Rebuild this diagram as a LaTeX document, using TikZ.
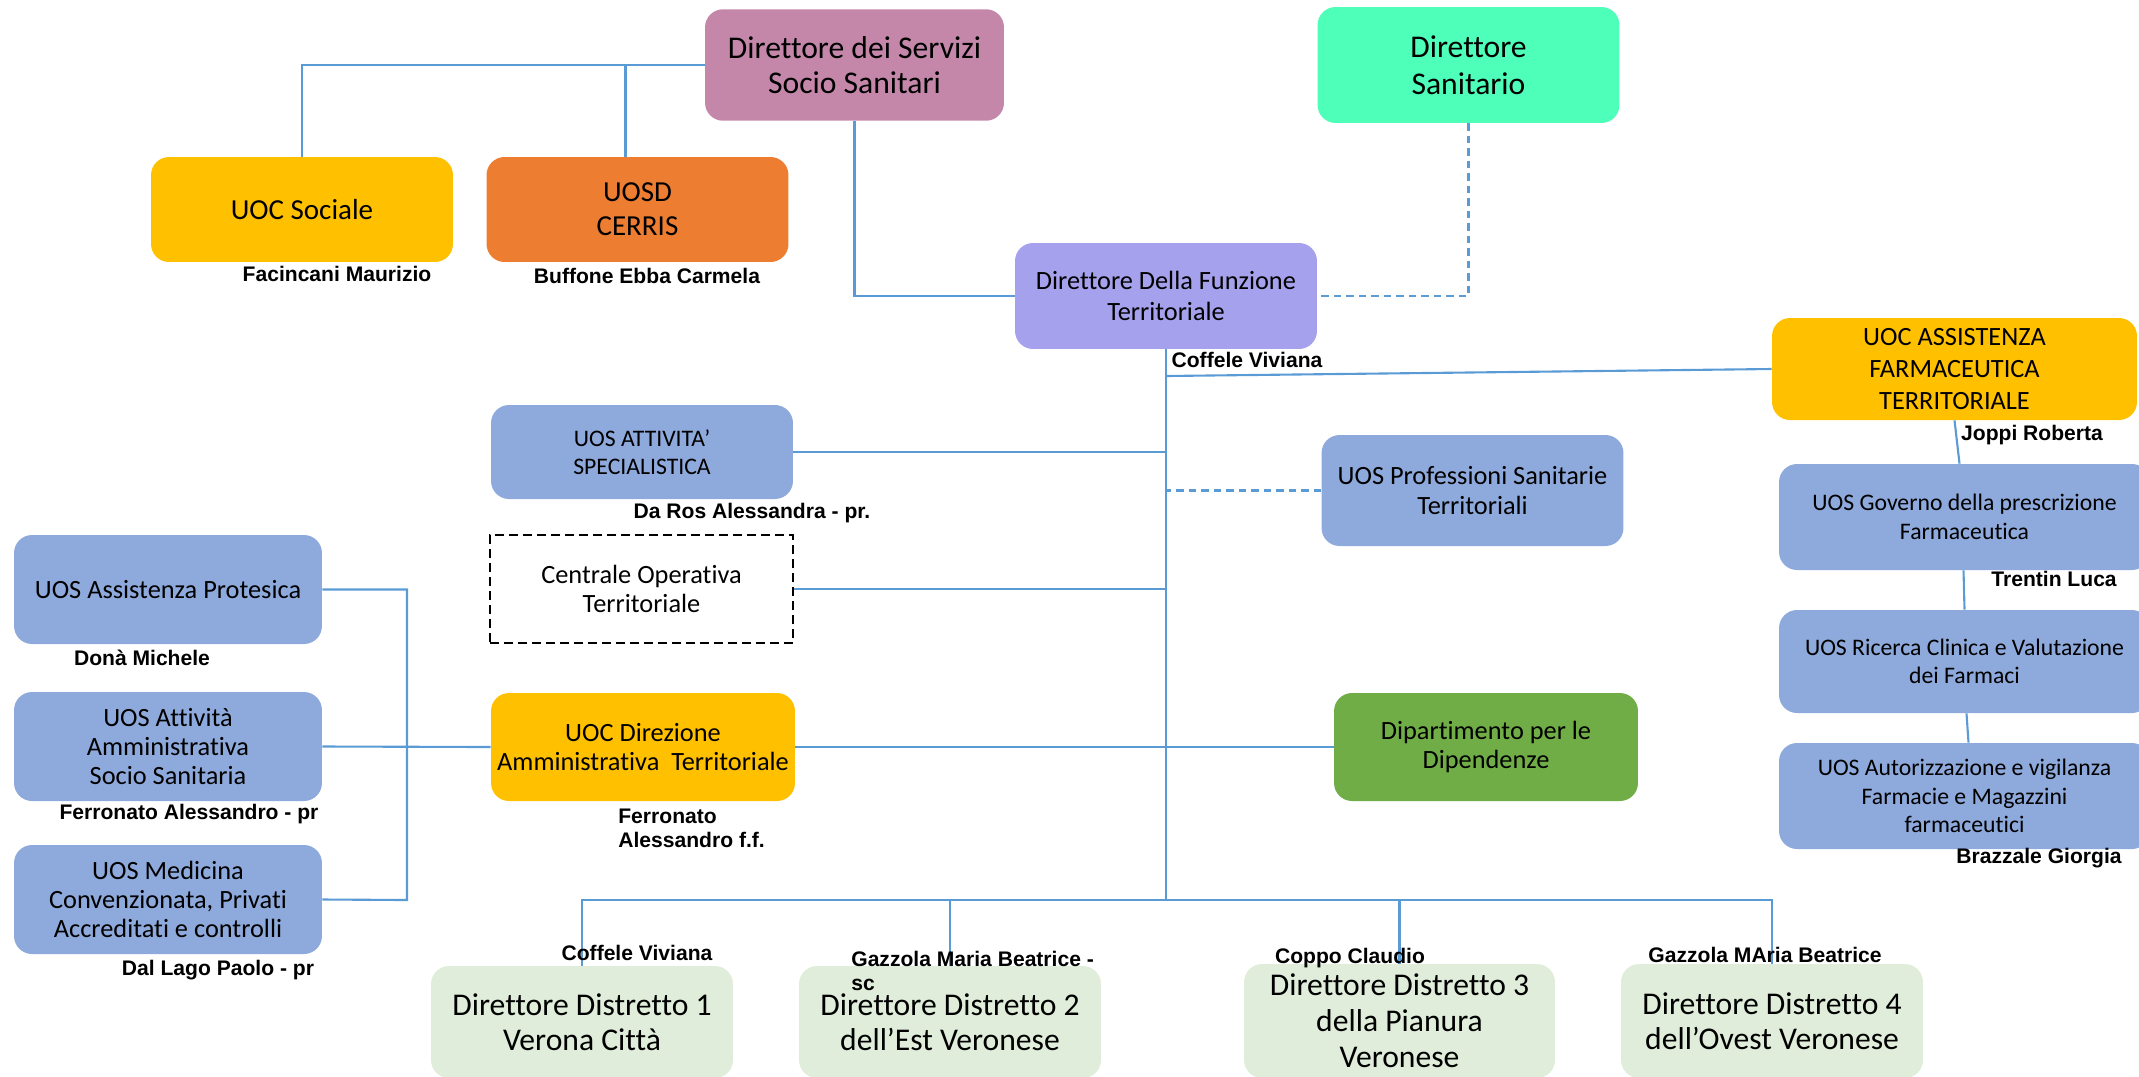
\documentclass[tikz,border=0pt]{standalone}
\usepackage{fontspec}
\setmainfont{Carlito}[Ligatures=NoCommon]
\newfontfamily\arialfont{Liberation Sans}
\usepackage{tikz}

\definecolor{servcol}{HTML}{C487AA}
\definecolor{sancol}{HTML}{4DFFB8}
\definecolor{funcol}{HTML}{A6A1EC}
\definecolor{uocyellow}{HTML}{FFC000}
\definecolor{cerriscol}{HTML}{ED7D31}
\definecolor{uosblue}{HTML}{8EA9DB}
\definecolor{dipgreen}{HTML}{70AD47}
\definecolor{distcol}{HTML}{DFEDDA}
\definecolor{linkblue}{HTML}{5B9BD5}

\newcommand{\fontDir}{\fontsize{18}{20}\selectfont}
\newcommand{\fontUoc}{\fontsize{16.5}{19.5}\selectfont}
\newcommand{\fontMid}{\fontsize{15}{16.6}\selectfont}
\newcommand{\fontSmall}{\fontsize{13.5}{16.2}\selectfont}
\newcommand{\fontName}{\arialfont\bfseries\fontsize{12}{13.8}\selectfont}

\begin{document}
\begin{tikzpicture}[x=0.02cm, y=-0.02cm]
	\tikzset{unitbox/.style={
			rounded corners=0.36cm,
			align=center,
			inner sep=1pt,
			minimum width=6.04cm,
			minimum height=2.16cm,
			fill=uosblue,
			font=\fontMid},
		namelabel/.style={font=\fontName, inner sep=0pt},
		link/.style={draw=linkblue, line width=1.2pt},
		dashlink/.style={link, dash pattern=on 0.15cm off 0.1cm}}
	
	\useasboundingbox (0,0) rectangle (2139,1076);
	\clip (0,0) rectangle (2139,1076);
	
	%% DIREZIONE
	\node[unitbox, fill=servcol, font=\fontDir, minimum width=5.98cm, minimum height=2.23cm] (DirServizi) at (854.5,65) {Direttore dei Servizi\\Socio Sanitari};
	\node[unitbox, fill=sancol, font=\fontsize{18}{21}\selectfont, minimum height=2.32cm] (DirSanitario) at (1468.5,65) {Direttore\\Sanitario};
	\node[unitbox, fill=uocyellow, font=\fontUoc, minimum height=2.1cm] (UocSociale) at (302,209.5) {UOC Sociale};
	\node[unitbox, fill=cerriscol, font=\fontUoc, minimum height=2.1cm] (UosdCerris) at (637.5,209.5) {UOSD\\CERRIS};
	\node[unitbox, fill=funcol, font=\fontsize{15}{17.8}\selectfont, minimum height=2.12cm] (DirFunzione) at (1166,296) {Direttore Della Funzione\\Territoriale};
	
	%% CENTRO
	\node[unitbox, font=\fontSmall, minimum height=1.88cm] (UosSpec) at (642,452) {UOS ATTIVITA’\\SPECIALISTICA};
	\node[unitbox, minimum height=2.22cm] (UosProf) at (1472.5,490.5) {UOS Professioni Sanitarie\\Territoriali};
	\node[unitbox, fill=white, draw=black, line width=1.3pt, rounded corners=0pt, dash pattern=on 0.18cm off 0.1cm, minimum width=6.06cm] (CentOp) at (641.5,589) {Centrale Operativa\\Territoriale};
	\node[unitbox, fill=uocyellow, minimum width=6.08cm] (UocDirAmm) at (643,747) {UOC Direzione\\Amministrativa\ \ Territoriale};
	\node[unitbox, fill=dipgreen, minimum width=6.08cm] (DipDip) at (1486,747) {Dipartimento per le\\Dipendenze};
	
	%% SINISTRA
	\node[unitbox, minimum width=6.16cm, minimum height=2.18cm] (UosProtesica) at (168,589.5) {UOS Assistenza Protesica};
	\node[unitbox, minimum width=6.16cm, minimum height=2.18cm] (UosAttAmm) at (168,746.5) {UOS Attività\\Amministrativa\\Socio Sanitaria};
	\node[unitbox, minimum width=6.16cm, minimum height=2.18cm] (UosMedicina) at (168,899.5) {UOS Medicina\\Convenzionata, Privati\\Accreditati e controlli};
	
	%% FARMACEUTICA
	\node[unitbox, fill=uocyellow, font=\fontsize{15}{18}\selectfont, minimum width=7.3cm, minimum height=2.04cm] (UocFarm) at (1954.5,369) {UOC ASSISTENZA\\FARMACEUTICA\\TERRITORIALE};
	\node[unitbox, font=\fontSmall, minimum width=7.42cm, minimum height=2.12cm] (UosGoverno) at (1964.5,517) {UOS Governo della prescrizione\\Farmaceutica};
	\node[unitbox, font=\fontSmall, minimum width=7.42cm, minimum height=2.06cm] (UosRicerca) at (1964.5,661.5) {UOS Ricerca Clinica e Valutazione\\dei Farmaci};
	\node[unitbox, font=\fontsize{13.5}{16.4}\selectfont, minimum width=7.42cm, minimum height=2.12cm] (UosAutoriz) at (1964.5,796) {UOS Autorizzazione e vigilanza\\Farmacie e Magazzini\\farmaceutici};
	
	%% DISTRETTI
	\node[unitbox, fill=distcol, font=\fontDir, minimum height=2.24cm] (Distretto1) at (582,1022) {Direttore Distretto 1\\Verona Città};
	\node[unitbox, fill=distcol, font=\fontDir, minimum height=2.24cm] (Distretto2) at (950,1022) {Direttore Distretto 2\\dell’Est Veronese};
	\node[unitbox, fill=distcol, font=\fontsize{18}{20.4}\selectfont, minimum width=6.22cm, minimum height=2.28cm] (Distretto3) at (1399.5,1021) {Direttore Distretto 3\\della Pianura\\Veronese};
	\node[unitbox, fill=distcol, font=\fontDir, minimum height=2.28cm] (Distretto4) at (1772,1021) {Direttore Distretto 4\\dell’Ovest Veronese};
	
	%% COLLEGAMENTI
	\coordinate (Hub) at (1166,900);
	\coordinate (FarmJoin) at (1166,376);
	\coordinate (LeftBar) at (407,900);
	
	\draw[link] (UocSociale.north) |- (DirServizi.west);
	\draw[link] ([xshift=-0.24cm]UosdCerris.north) |- (DirServizi.west);
	\draw[link] (DirServizi.south) |- (DirFunzione.west);
	\draw[dashlink] (DirSanitario.south) |- (DirFunzione.east);
	
	\draw[link] (DirFunzione.south) -- (Hub);
	\draw[link] (FarmJoin) -- (UocFarm.west);
	\draw[link] (UosSpec.east) -- (UosSpec.east -| Hub);
	\draw[dashlink] (UosProf.west) -- (UosProf.west -| Hub);
	\draw[link] (CentOp.east) -- (CentOp.east -| Hub);
	\draw[link] (UocDirAmm.east) -- (UocDirAmm.east -| Hub);
	\draw[link] (DipDip.west) -- (DipDip.west -| Hub);
	
	\draw[link] (UosProtesica.east) -| (LeftBar) -- (UosMedicina.east);
	\draw[link] (UosAttAmm.east) -- (UocDirAmm.west);
	
	\draw[link] (UocFarm.south) -- ([xshift=-0.1cm]UosGoverno.north);
	\draw[link] ([xshift=-0.02cm]UosGoverno.south) -- (UosRicerca.north);
	\draw[link] ([xshift=0.04cm]UosRicerca.south) -- ([xshift=0.08cm]UosAutoriz.north);
	
	\draw[link] (Distretto1.north) |- (Hub) -| (Distretto4.north);
	\draw[link] (Distretto2.north) -- (Distretto2.north |- Hub);
	\draw[link] (Distretto3.north) -- (Distretto3.north |- Hub);
	
	%% RESPONSABILI
	\node[namelabel] (NFacincani) at (337,274) {Facincani Maurizio};
	\node[namelabel] (NBuffone) at (647,276) {Buffone Ebba Carmela};
	\node[namelabel] (NCoffeleTop) at (1247,360) {Coffele Viviana};
	\node[namelabel] (NJoppi) at (2032,435) {Joppi Roberta};
	\node[namelabel] (NDaRos) at (752,513) {Da Ros Alessandra - pr.};
	\node[namelabel] (NTrentin) at (2054,579) {Trentin Luca};
	\node[namelabel] (NDona) at (142,658) {Donà Michele};
	\node[namelabel] (NFerronatoPr) at (189,814) {Ferronato Alessandro - pr};
	\node[namelabel, anchor=west, align=left] (NFerronatoFf) at (618,828) {Ferronato\\Alessandro f.f.};
	\node[namelabel] (NBrazzale) at (2039,858) {Brazzale Giorgia};
	\node[namelabel] (NDalLago) at (218,970) {Dal Lago Paolo - pr};
	\node[namelabel] (NCoffeleBot) at (637,953) {Coffele Viviana};
	\node[namelabel, anchor=west, align=left] (NGazzola) at (851,971) {Gazzola Maria Beatrice -\\sc};
	\node[namelabel] (NCoppo) at (1350,958) {Coppo Claudio};
	\node[namelabel] (NGazzolaOvest) at (1765,955) {Gazzola MAria Beatrice};
	
\end{tikzpicture}
\end{document}
